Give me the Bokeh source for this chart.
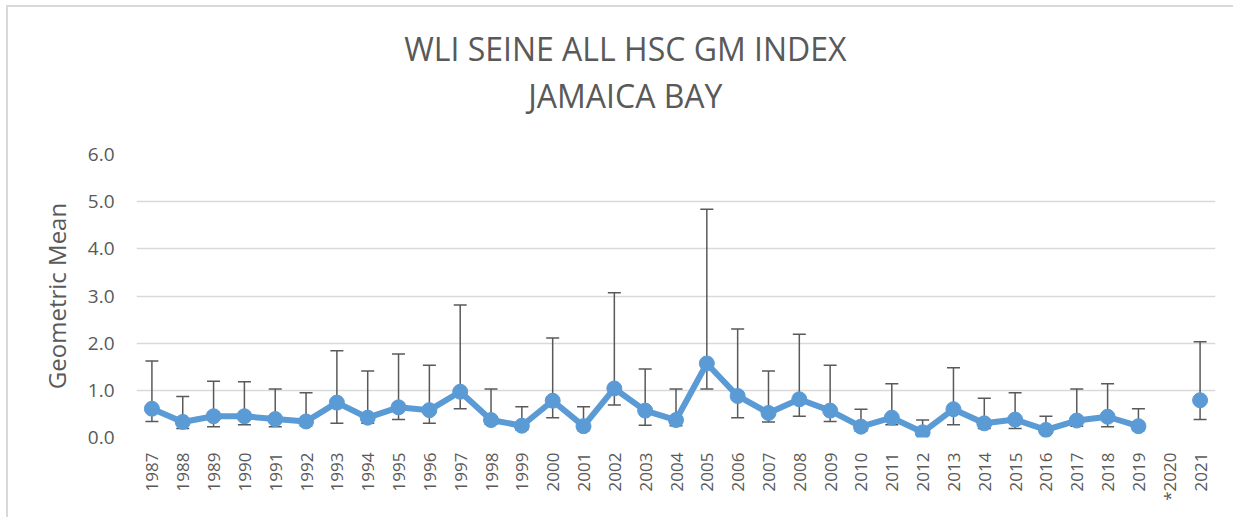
import math
import numpy as np
from bokeh.plotting import figure
from bokeh.layouts import column
from bokeh.models import (ColumnDataSource, Range1d, FactorRange, Whisker, TeeHead,
                          FixedTicker, PrintfTickFormatter)
from bokeh.core.properties import value
from bokeh.embed import file_html
from bokeh.resources import INLINE

nan = float("nan")

years = ["1987", "1988", "1989", "1990", "1991", "1992", "1993", "1994", "1995", "1996",
         "1997", "1998", "1999", "2000", "2001", "2002", "2003", "2004", "2005", "2006",
         "2007", "2008", "2009", "2010", "2011", "2012", "2013", "2014", "2015", "2016",
         "2017", "2018", "2019", "*2020", "2021"]

geo_mean = [0.61, 0.33, 0.45, 0.45, 0.39, 0.34, 0.74, 0.42, 0.64, 0.58,
            0.97, 0.37, 0.25, 0.78, 0.24, 1.04, 0.57, 0.37, 1.57, 0.88,
            0.52, 0.81, 0.57, 0.23, 0.42, 0.11, 0.60, 0.30, 0.38, 0.16,
            0.36, 0.44, 0.24, nan, 0.79]

upper_ci = [1.62, 0.87, 1.19, 1.18, 1.03, 0.95, 1.84, 1.41, 1.77, 1.53,
            2.81, 1.03, 0.65, 2.11, 0.65, 3.07, 1.45, 1.03, 4.84, 2.30,
            1.41, 2.19, 1.53, 0.60, 1.14, 0.37, 1.48, 0.83, 0.95, 0.45,
            1.03, 1.14, 0.61, nan, 2.03]

lower_ci = [0.34, 0.19, 0.23, 0.27, 0.23, 0.25, 0.30, 0.30, 0.38, 0.30,
            0.61, 0.28, 0.16, 0.42, 0.15, 0.69, 0.26, 0.25, 1.03, 0.42,
            0.33, 0.45, 0.34, 0.14, 0.27, 0.05, 0.27, 0.19, 0.19, 0.09,
            0.24, 0.23, 0.15, nan, 0.38]

y_ticks = [0, 1, 2, 3, 4, 5, 6]

title_lines = ["WLI SEINE ALL HSC GM INDEX", "JAMAICA BAY"]
y_label = "Geometric Mean"

BLUE = "#5B9BD5"
TEXT = "#595959"
GRID = "#D9D9D9"

W = 1225
TITLE_H = 113

# ---- title strip (its own small figure) ----
t = figure(width=W, height=TITLE_H, x_range=Range1d(0, W), y_range=Range1d(0, TITLE_H),
           output_backend="svg", toolbar_location=None,
           x_axis_location=None, y_axis_location=None,
           min_border=0, min_border_left=0, min_border_right=0,
           min_border_top=0, min_border_bottom=0)
t.title.visible = False
t.outline_line_color = None
t.grid.visible = False
t.text(x=[555, 555], y=[72, 25], text=title_lines,
       text_align="center", text_baseline="middle",
       text_font=value("Open Sans"), text_font_size="32px", text_color=TEXT)

# ---- main chart ----
src = ColumnDataSource(dict(year=years, gm=geo_mean))
keep = [i for i, v in enumerate(geo_mean) if not np.isnan(v)]
src_w = ColumnDataSource(dict(year=[years[i] for i in keep],
                              upper=[upper_ci[i] for i in keep],
                              lower=[lower_ci[i] for i in keep]))

p = figure(width=W, height=397, x_range=FactorRange(*years), y_range=Range1d(0, 6),
           output_backend="svg", toolbar_location=None,
           min_border_left=128, min_border_right=18, min_border_top=34, min_border_bottom=80)
p.title.visible = False
p.outline_line_color = None

p.xgrid.visible = False
p.ygrid.grid_line_color = GRID
p.ygrid.grid_line_width = 1.5

p.yaxis.ticker = FixedTicker(ticks=y_ticks)
p.yaxis.formatter = PrintfTickFormatter(format="%.1f")
for ax in (p.xaxis[0], p.yaxis[0]):
    ax.axis_line_color = None
    ax.major_tick_line_color = None
    ax.minor_tick_line_color = None
    ax.major_tick_out = 0
    ax.major_tick_in = 0
    ax.major_label_text_color = TEXT
    ax.major_label_text_font = "Open Sans"

p.yaxis.major_label_text_font_size = "19px"
p.yaxis.major_label_standoff = 22
p.yaxis.axis_label = y_label
p.yaxis.axis_label_text_font = "Open Sans"
p.yaxis.axis_label_text_font_size = "24px"
p.yaxis.axis_label_text_font_style = "normal"
p.yaxis.axis_label_text_color = TEXT
p.yaxis.axis_label_standoff = 12

p.xaxis.major_label_orientation = math.pi / 2
p.xaxis.major_label_text_font_size = "17px"
p.xaxis.major_label_standoff = 15

whisk = Whisker(base="year", upper="upper", lower="lower", source=src_w,
                line_color=TEXT, line_width=1.5, level="underlay",
                upper_head=TeeHead(size=13, line_color=TEXT, line_width=1.5),
                lower_head=TeeHead(size=13, line_color=TEXT, line_width=1.5))
p.add_layout(whisk)

p.line(x="year", y="gm", source=src, line_color=BLUE, line_width=6, line_join="round")
p.scatter(x="year", y="gm", source=src, size=15, fill_color=BLUE, line_color=BLUE)

layout = column(t, p, spacing=0)
layout.styles = {"border-left": "2px solid #D9D9D9", "border-top": "2px solid #D9D9D9",
                 "margin-left": "6px", "margin-top": "5px"}
open("out.html", "w").write(file_html(layout, INLINE))
